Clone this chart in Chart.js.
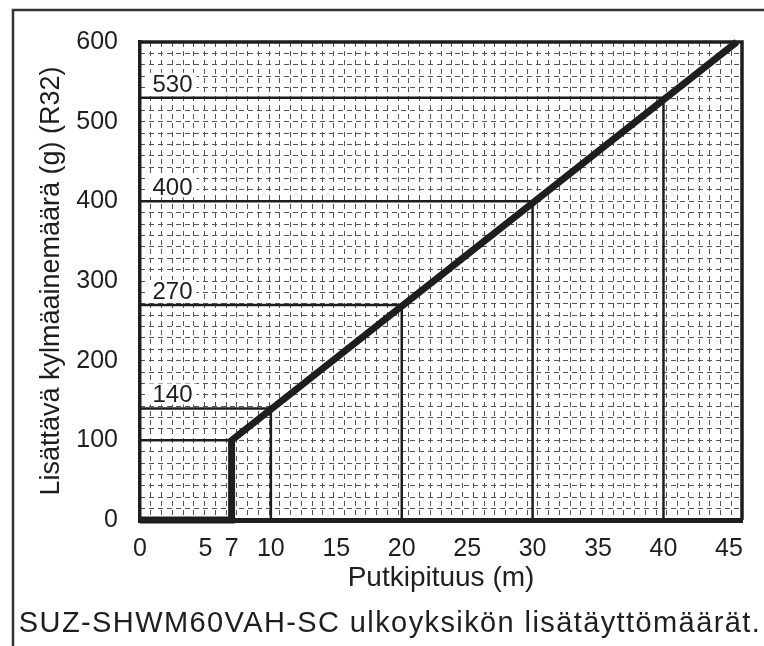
<!DOCTYPE html>
<html lang="fi">
<head>
<meta charset="UTF-8">
<title>SUZ-SHWM60VAH-SC lisätäyttömäärät</title>
<script src="https://cdn.jsdelivr.net/npm/chart.js"></script>
<style>
    body { margin: 0; background: #fff; }
    .wrap { width: 764px; height: 646px; }
</style>
</head>
<body>
<div class="wrap"><canvas id="chart" width="764" height="646"></canvas></div>
<script>
    // Putkipituus (m) -> lisättävä kylmäaine (g)
    const curveX = [0, 7, 7, 45.6];
    const curveY = [0, 0, 100, 600];

    // apuviivat käyrälle
    const refX = [7, 10, 20, 30, 40];
    const refY = [100, 140, 270, 400, 530];
    const refLabels = ['', '140', '270', '400', '530'];

    const xTicks = [0, 5, 7, 10, 15, 20, 25, 30, 35, 40, 45];
    const yTicks = [0, 100, 200, 300, 400, 500, 600];

    const caption = 'SUZ-SHWM60VAH-SC ulkoyksikön lisätäyttömäärät.';

    const ink = '#1e1e1e';
    const fontFam = '"Liberation Sans", Arial, sans-serif';

    const datasets = [{
        data: curveX.map((x, i) => ({ x: x, y: curveY[i] })),
        borderColor: ink,
        borderWidth: 7,
        borderJoinStyle: 'miter',
        pointRadius: 0,
        order: 0
    }];
    refX.forEach((x, i) => {
        datasets.push({
            data: [{ x: 0, y: refY[i] }, { x: x, y: refY[i] }],
            borderColor: ink, borderWidth: 2.5, pointRadius: 0, order: 1
        });
        if (x !== 7) {
            datasets.push({
                data: [{ x: x, y: 0 }, { x: x, y: refY[i] }],
                borderColor: ink, borderWidth: 2.5, pointRadius: 0, order: 1
            });
        }
    });

    // ulkokehys, viivojen arvot ja kuvateksti
    const extras = {
        id: 'extras',
        beforeDraw(chart) {
            const c = chart.ctx;
            c.save();
            c.strokeStyle = '#333';
            c.lineWidth = 2.5;
            c.beginPath();
            c.moveTo(13, 646);
            c.lineTo(13, 10);
            c.lineTo(764, 10);
            c.stroke();
            c.restore();
        },
        afterDatasetsDraw(chart) {
            const c = chart.ctx;
            const xs = chart.scales.x, ys = chart.scales.y;
            const a = chart.chartArea;
            c.save();
            c.font = '24px ' + fontFam;
            c.textBaseline = 'alphabetic';
            c.textAlign = 'left';
            refLabels.forEach((t, i) => {
                if (!t) return;
                const px = xs.getPixelForValue(0.95);
                const py = ys.getPixelForValue(refY[i]) - 6;
                const w = c.measureText(t).width;
                c.fillStyle = '#fff';
                c.fillRect(px - 4, py - 19, w + 8, 21);
                c.fillStyle = ink;
                c.fillText(t, px, py);
            });
            c.strokeStyle = ink;
            c.lineWidth = 3.5;
            c.beginPath();
            c.moveTo(a.left, a.top);
            c.lineTo(a.right, a.top);
            c.lineTo(a.right, a.bottom);
            c.stroke();
            c.restore();
        },
        afterDraw(chart) {
            const c = chart.ctx;
            c.save();
            c.font = '29px ' + fontFam;
            c.letterSpacing = '1.4px';
            c.fillStyle = ink;
            c.textAlign = 'center';
            c.textBaseline = 'alphabetic';
            c.fillText(caption, 390, 632);
            c.restore();
        }
    };

    new Chart(document.getElementById('chart'), {
        type: 'line',
        data: { datasets: datasets },
        plugins: [extras],
        options: {
            responsive: false,
            animation: false,
            clip: false,
            layout: { padding: { top: 42, right: 22, left: 0, bottom: 0 } },
            plugins: {
                legend: { display: false },
                tooltip: { enabled: false },
                title: { display: false }
            },
            scales: {
                x: {
                    type: 'linear', position: 'bottom', min: 0, max: 46,
                    afterBuildTicks: s => { s.ticks = xTicks.map(v => ({ value: v })); },
                    afterFit: s => { s.height = 126; },
                    grid: { display: false, drawTicks: false },
                    border: { display: true, color: ink, width: 5 },
                    ticks: { color: ink, padding: 14, autoSkip: false, maxRotation: 0, font: { family: fontFam, size: 25 } },
                    title: {
                        display: true, text: 'Putkipituus (m)', color: ink,
                        font: { family: fontFam, size: 28 }, padding: { top: 0, bottom: 51 }
                    }
                },
                y: {
                    type: 'linear', position: 'left', min: 0, max: 600,
                    afterBuildTicks: s => { s.ticks = yTicks.map(v => ({ value: v })); },
                    afterFit: s => { s.width = 140; },
                    grid: { display: false, drawTicks: false },
                    border: { display: true, color: ink, width: 3.5 },
                    ticks: { color: ink, padding: 22, font: { family: fontFam, size: 25 } },
                    title: {
                        display: true, text: 'Lisättävä kylmäainemäärä (g) (R32)', color: ink,
                        font: { family: fontFam, size: 27 }, padding: { top: 35, bottom: 0 }
                    }
                },
                xg: {
                    type: 'linear', position: 'top', min: 0, max: 56,
                    afterBuildTicks: s => {
                        const t = [];
                        for (let i = 1; i < 56; i++) t.push({ value: i });
                        s.ticks = t;
                    },
                    afterFit: s => { s.height = 0; },
                    ticks: { display: false },
                    grid: { color: '#555', lineWidth: 1, drawTicks: false },
                    border: { display: false, dash: [5, 4] }
                },
                yg: {
                    type: 'linear', position: 'right', min: 0, max: 42,
                    afterBuildTicks: s => {
                        const t = [];
                        for (let i = 1; i < 42; i++) t.push({ value: i });
                        s.ticks = t;
                    },
                    afterFit: s => { s.width = 0; },
                    ticks: { display: false },
                    grid: { color: '#555', lineWidth: 1, drawTicks: false },
                    border: { display: false, dash: [5, 4] }
                }
            }
        }
    });
</script>
</body>
</html>
